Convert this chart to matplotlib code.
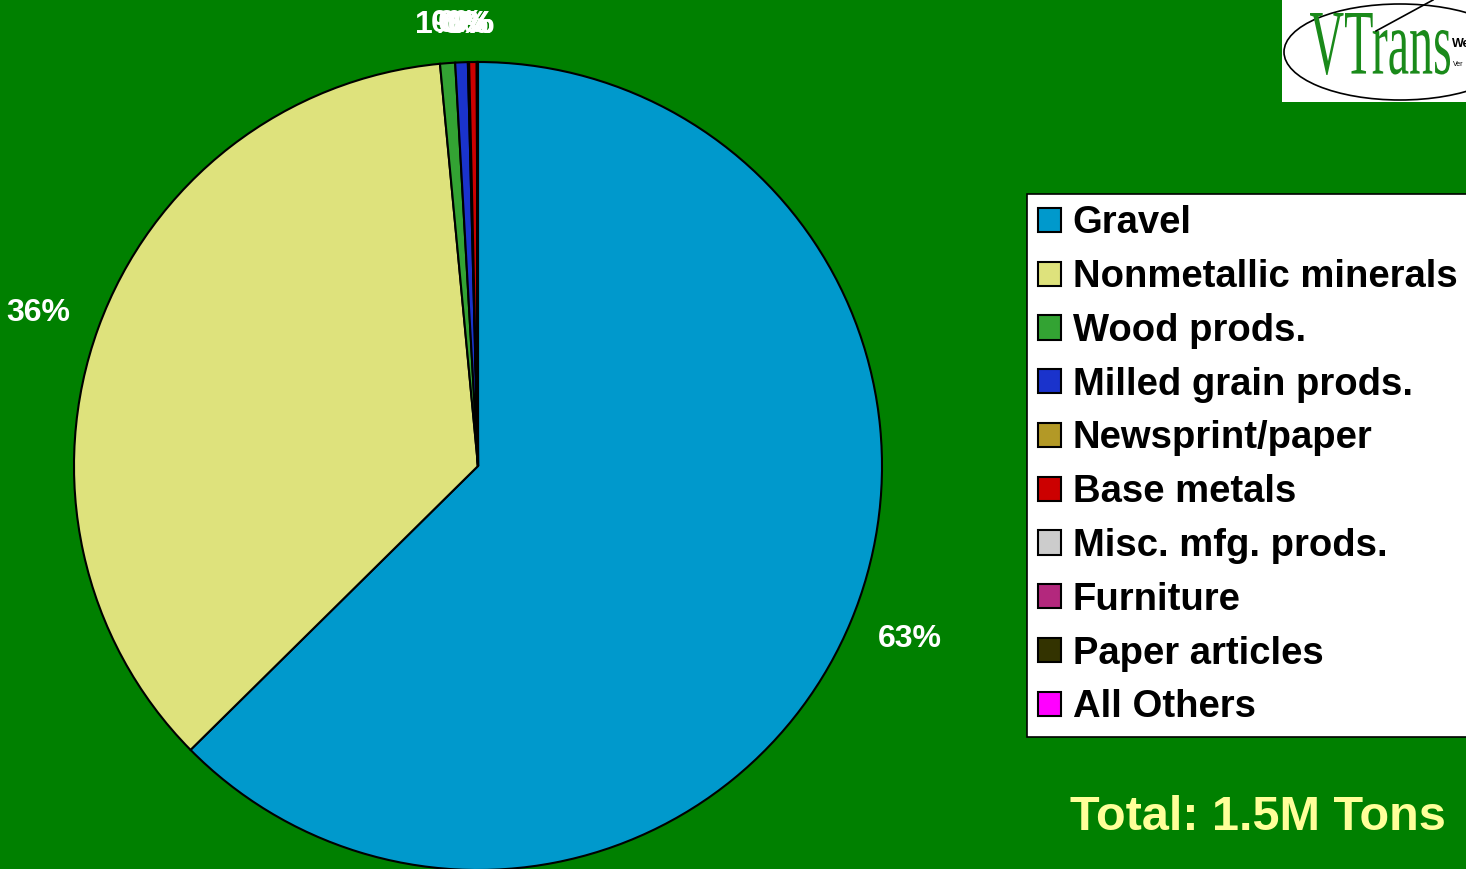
import matplotlib
matplotlib.use("Agg")
import numpy as np
import matplotlib.pyplot as plt
from matplotlib.patches import Rectangle, Ellipse, PathPatch
from matplotlib.textpath import TextPath
from matplotlib.font_manager import FontProperties
from matplotlib.transforms import Affine2D

# commodity shares (percent of tons)
categories = ["Gravel", "Nonmetallic minerals", "Wood prods.", "Milled grain prods.",
              "Newsprint/paper", "Base metals", "Misc. mfg. prods.", "Furniture",
              "Paper articles", "All Others"]
shares = [62.6, 35.9, 0.6, 0.5, 0.05, 0.3, 0.02, 0.01, 0.01, 0.01]
colors = ["#0099CC", "#DEE27C", "#33A333", "#1A33CC", "#B39926",
          "#CC0000", "#CCCCCC", "#B3287D", "#333300", "#FF00FF"]
total_text = "Total: 1.5M Tons"

plt.rcParams["font.family"] = ["Liberation Sans", "DejaVu Sans"]

W, H = 1466, 869
fig = plt.figure(figsize=(W / 100, H / 100), dpi=100)
fig.patch.set_facecolor("#008000")

# pie axes: square box in pixels (radius 1 == 404 px)
ax = fig.add_axes([74 / W, -1 / H, 808 / W, 808 / H])
wedges, texts, autotexts = ax.pie(
    shares, colors=colors, startangle=90, counterclock=False,
    autopct="%.0f%%", pctdistance=1.1,
    wedgeprops=dict(edgecolor="black", linewidth=1.5),
    textprops=dict(color="white", fontsize=23, fontweight="bold"))
ax.set_xlim(-1, 1)
ax.set_ylim(-1, 1)
for w in wedges:
    w.set_clip_on(False)

# put labels so that the nearest edge of the text box sits just outside the rim
px = 1 / 404
for w, t in zip(wedges, autotexts):
    ang = np.deg2rad((w.theta1 + w.theta2) / 2 + 0.8)
    c, s = np.cos(ang), np.sin(ang)
    half_w = 11 * len(t.get_text()) * px
    half_h = 10 * px
    r = 1.067 + half_w * abs(c) + half_h * abs(s)
    t.set_position((r * c, r * s))
    t.set_clip_on(False)

# legend
leg = fig.legend(wedges, categories, loc="upper left",
                 bbox_to_anchor=(1027 / W, 1 - 194 / H),
                 prop=FontProperties(family="Liberation Sans", weight="bold", size=27.5),
                 frameon=True, fancybox=False, framealpha=1,
                 facecolor="white", edgecolor="black",
                 handlelength=0.6, handleheight=0.6, handletextpad=0.3,
                 labelspacing=0.465, borderpad=0.3, borderaxespad=0)
leg.get_frame().set_linewidth(1.2)

fig.text(1258 / W, 1 - 817 / H, total_text, color="#FFFF99", fontsize=35,
         fontweight="bold", ha="center", va="center")

# logo in the top right corner
lax = fig.add_axes([0, 0, 1, 1])
lax.set_xlim(0, W)
lax.set_ylim(H, 0)
lax.axis("off")
lax.add_patch(Rectangle((1282, -2), 190, 104, facecolor="white", edgecolor="none"))
lax.add_patch(Ellipse((1400, 52), 232, 96, facecolor="none", edgecolor="black", lw=1.2))
lax.plot([1376, 1433], [31, 0], color="black", lw=1.2)
tp = TextPath((0, 0), "VTrans", size=100, prop=FontProperties(family="Liberation Serif"))
ext = tp.get_extents()
sx = 140 / ext.width
sy = -62 / ext.height
tr = Affine2D().translate(-ext.x0, -ext.y0).scale(sx, sy).translate(1310, 75)
lax.add_patch(PathPatch(tr.transform_path(tp), facecolor="#1A8A1A", edgecolor="none"))
lax.text(1452, 50, "We", fontsize=9, fontweight="bold", color="black", va="bottom")
lax.text(1453, 64, "Ver", fontsize=5, color="black", va="center")

fig.savefig("out.png", dpi=100, facecolor=fig.get_facecolor())
